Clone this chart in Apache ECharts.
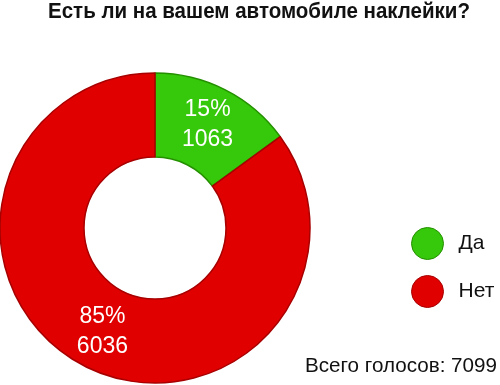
<!DOCTYPE html>
<html>
<head>
<meta charset="utf-8">
<style>html,body{margin:0;padding:0;background:#fff;}#c{width:500px;height:385px;}</style>
<script src="https://cdn.jsdelivr.net/npm/echarts@6/dist/echarts.min.js"></script>
</head>
<body>
<div id="c"></div>
<script>
var titleText = 'Есть ли на вашем автомобиле наклейки?';
var categories = ['Да', 'Нет'];
var values = [1063, 6036];
var totalText = 'Всего голосов: 7099';
var colors = ['#36c80a', '#e10000'];
var borders = ['#249000', '#a80000'];

var FONT = "'Liberation Sans', Arial, sans-serif";
var mctx = document.createElement('canvas').getContext('2d');
function fitScale(text, font, target) {
  mctx.font = font;
  return target / mctx.measureText(text).width;
}
var titleFont = 'bold 22px ' + FONT;
var totalFont = '21px ' + FONT;

var chart = echarts.init(document.getElementById('c'), null, {renderer: 'canvas'});
chart.setOption({
  backgroundColor: '#ffffff',
  animation: false,
  legend: {
    orient: 'vertical',
    left: 406, top: 222,
    icon: 'circle',
    itemWidth: 32, itemHeight: 32,
    itemGap: 15,
    data: categories.map(function (n, i) {
      return {name: n, itemStyle: {color: colors[i], borderColor: borders[i], borderWidth: 1}};
    }),
    textStyle: {fontFamily: FONT, fontSize: 21, color: '#111', padding: [0, 0, 0, 10]}
  },
  graphic: [{
    type: 'text', x: 48, y: 1, scaleX: fitScale(titleText, titleFont, 422),
    style: {text: titleText, font: titleFont, fill: '#111', textVerticalAlign: 'top'}
  }, {
    type: 'text', x: 305, y: 356, scaleX: fitScale(totalText, totalFont, 192),
    style: {text: totalText, font: totalFont, fill: '#111', textVerticalAlign: 'top'}
  }],
  series: [{
    type: 'pie',
    center: [155, 228],
    radius: [71, 155],
    startAngle: 90,
    clockwise: true,
    percentPrecision: 0,
    label: {
      show: true,
      position: 'inside',
      formatter: '{d}%\n{c}',
      fontFamily: FONT,
      fontSize: 23,
      lineHeight: 30,
      color: '#fff'
    },
    labelLine: {show: false},
    data: categories.map(function (n, i) {
      return {name: n, value: values[i], itemStyle: {color: colors[i], borderColor: borders[i], borderWidth: 1.5}};
    })
  }]
});
</script>
</body>
</html>
